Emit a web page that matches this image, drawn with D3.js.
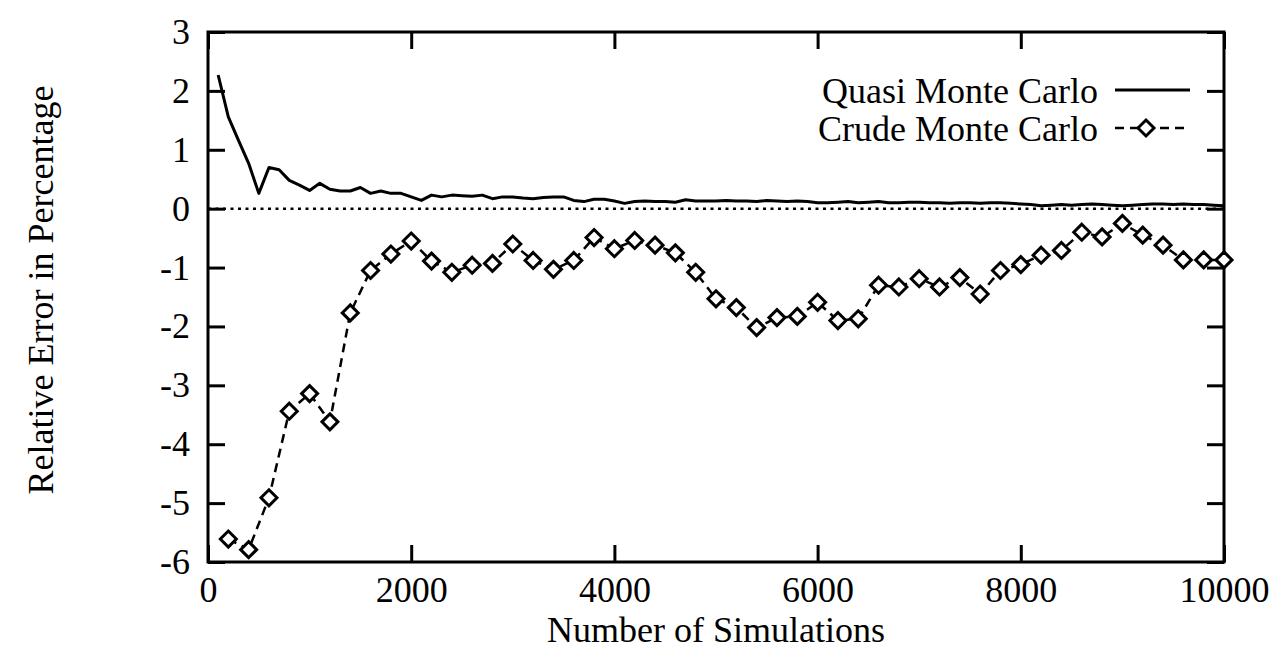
<!DOCTYPE html>
<html>
<head>
<meta charset="utf-8">
<script src="https://cdn.jsdelivr.net/npm/d3@7"></script>
<style>
  body { margin: 0; background: #fff; }
  svg { display: block; font-family: "Liberation Serif", "Times New Roman", serif; }
  .axis path, .axis line { stroke: #000; stroke-width: 3; }
  .axis text { font-size: 36px; fill: #000; font-family: "Liberation Serif", serif; }
</style>
</head>
<body>
<div id="chart"></div>
<script>
// data
var quasiSims = d3.range(100, 10001, 100);
var quasiErr = [2.27, 1.56, 1.16, 0.77, 0.26, 0.70, 0.66, 0.48, 0.40, 0.31,
                0.43, 0.33, 0.30, 0.30, 0.36, 0.26, 0.30, 0.26, 0.26, 0.20,
                0.14, 0.23, 0.20, 0.23, 0.22, 0.21, 0.23, 0.17, 0.20, 0.20,
                0.18, 0.17, 0.19, 0.20, 0.20, 0.14, 0.12, 0.16, 0.16, 0.13,
                0.09, 0.12, 0.13, 0.12, 0.12, 0.11, 0.15, 0.13, 0.13, 0.13,
                0.14, 0.13, 0.13, 0.12, 0.14, 0.13, 0.12, 0.13, 0.12, 0.10,
                0.10, 0.11, 0.12, 0.10, 0.11, 0.12, 0.10, 0.10, 0.11, 0.11,
                0.10, 0.10, 0.09, 0.10, 0.10, 0.09, 0.10, 0.10, 0.09, 0.08,
                0.07, 0.05, 0.06, 0.07, 0.06, 0.07, 0.08, 0.07, 0.06, 0.05,
                0.06, 0.07, 0.08, 0.08, 0.07, 0.08, 0.07, 0.07, 0.06, 0.05];

var crudeSims = d3.range(200, 10001, 200);
var crudeErr = [-5.61, -5.79, -4.91, -3.44, -3.14, -3.62, -1.77, -1.05, -0.77, -0.55,
                -0.89, -1.08, -0.96, -0.93, -0.60, -0.88, -1.03, -0.88, -0.49, -0.68,
                -0.54, -0.62, -0.75, -1.08, -1.53, -1.68, -2.02, -1.85, -1.83, -1.59,
                -1.90, -1.87, -1.30, -1.33, -1.19, -1.33, -1.17, -1.45, -1.05, -0.95,
                -0.79, -0.71, -0.40, -0.48, -0.25, -0.45, -0.62, -0.87, -0.87, -0.87];

var xTicks = [0, 2000, 4000, 6000, 8000, 10000];
var yTicks = [3, 2, 1, 0, -1, -2, -3, -4, -5, -6];
var seriesNames = ["Quasi Monte Carlo", "Crude Monte Carlo"];

var W = 1277, H = 653;
var plotL = 208, plotR = 1224, plotT = 32, plotB = 562;

var svg = d3.select("#chart").append("svg")
    .attr("width", W)
    .attr("height", H);

var x = d3.scaleLinear().domain([0, 10000]).range([plotL, plotR]);
var y = d3.scaleLinear().domain([-6, 3]).range([plotB, plotT]);

// plain hyphen minus, like the original
var plain = function(d) { return String(d); };

// zero line (dotted)
svg.append("line")
    .attr("x1", x(0)).attr("x2", x(10000))
    .attr("y1", y(0)).attr("y2", y(0))
    .attr("stroke", "#000")
    .attr("stroke-width", 2.5)
    .attr("stroke-dasharray", "3,4.5");

// axes, ticks pointing inward
svg.append("g")
    .attr("class", "axis")
    .attr("transform", "translate(0," + plotB + ")")
    .call(d3.axisBottom(x).tickValues(xTicks).tickSize(-17).tickPadding(14).tickFormat(plain));
svg.append("g")
    .attr("class", "axis")
    .attr("transform", "translate(0," + plotT + ")")
    .call(d3.axisTop(x).tickValues(xTicks).tickSize(-17).tickFormat(""));
svg.append("g")
    .attr("class", "axis")
    .attr("transform", "translate(" + plotL + ",0)")
    .call(d3.axisLeft(y).tickValues(yTicks).tickSize(-17).tickPadding(18).tickFormat(plain));
svg.append("g")
    .attr("class", "axis")
    .attr("transform", "translate(" + plotR + ",0)")
    .call(d3.axisRight(y).tickValues(yTicks).tickSize(-17).tickFormat(""));

svg.selectAll(".axis .domain").remove();

// frame
svg.append("rect")
    .attr("x", plotL).attr("y", plotT)
    .attr("width", plotR - plotL).attr("height", plotB - plotT)
    .attr("fill", "none")
    .attr("stroke", "#000")
    .attr("stroke-width", 3);

// quasi monte carlo
var quasiLine = d3.line()
    .x(function(d, i) { return x(quasiSims[i]); })
    .y(function(d) { return y(d); });
svg.append("path")
    .datum(quasiErr)
    .attr("d", quasiLine)
    .attr("fill", "none")
    .attr("stroke", "#000")
    .attr("stroke-width", 3)
    .attr("stroke-linejoin", "round");

// crude monte carlo
var crudeLine = d3.line()
    .x(function(d, i) { return x(crudeSims[i]); })
    .y(function(d) { return y(d); });
svg.append("path")
    .datum(crudeErr)
    .attr("d", crudeLine)
    .attr("fill", "none")
    .attr("stroke", "#000")
    .attr("stroke-width", 2.5)
    .attr("stroke-dasharray", "9,6");

var diamond = "M0,-8L8,0L0,8L-8,0Z";
svg.selectAll(".pt")
    .data(crudeErr)
    .enter()
    .append("path")
      .attr("class", "pt")
      .attr("d", diamond)
      .attr("transform", function(d, i) { return "translate(" + x(crudeSims[i]) + "," + y(d) + ")"; })
      .attr("fill", "#fff")
      .attr("stroke", "#000")
      .attr("stroke-width", 3);

// legend
var lg = svg.append("g");
lg.append("text")
    .attr("x", 1098).attr("y", 90)
    .attr("dy", "0.35em")
    .attr("text-anchor", "end")
    .style("font-size", "36px")
    .text(seriesNames[0]);
lg.append("line")
    .attr("x1", 1115).attr("x2", 1190)
    .attr("y1", 90).attr("y2", 90)
    .attr("stroke", "#000").attr("stroke-width", 3);
lg.append("text")
    .attr("x", 1098).attr("y", 128)
    .attr("dy", "0.35em")
    .attr("text-anchor", "end")
    .style("font-size", "36px")
    .text(seriesNames[1]);
lg.append("line")
    .attr("x1", 1115).attr("x2", 1190)
    .attr("y1", 128).attr("y2", 128)
    .attr("stroke", "#000").attr("stroke-width", 2.5)
    .attr("stroke-dasharray", "9,6");
lg.append("path")
    .attr("d", diamond)
    .attr("transform", "translate(1146,128)")
    .attr("fill", "#fff").attr("stroke", "#000").attr("stroke-width", 3);

// axis titles
svg.append("text")
    .attr("x", (plotL + plotR) / 2)
    .attr("y", 629)
    .attr("dy", "0.35em")
    .attr("text-anchor", "middle")
    .style("font-size", "36px")
    .text("Number of Simulations");
svg.append("text")
    .attr("transform", "translate(40,290)rotate(-90)")
    .attr("dy", "0.35em")
    .attr("text-anchor", "middle")
    .style("font-size", "36px")
    .text("Relative Error in Percentage");
</script>
</body>
</html>
